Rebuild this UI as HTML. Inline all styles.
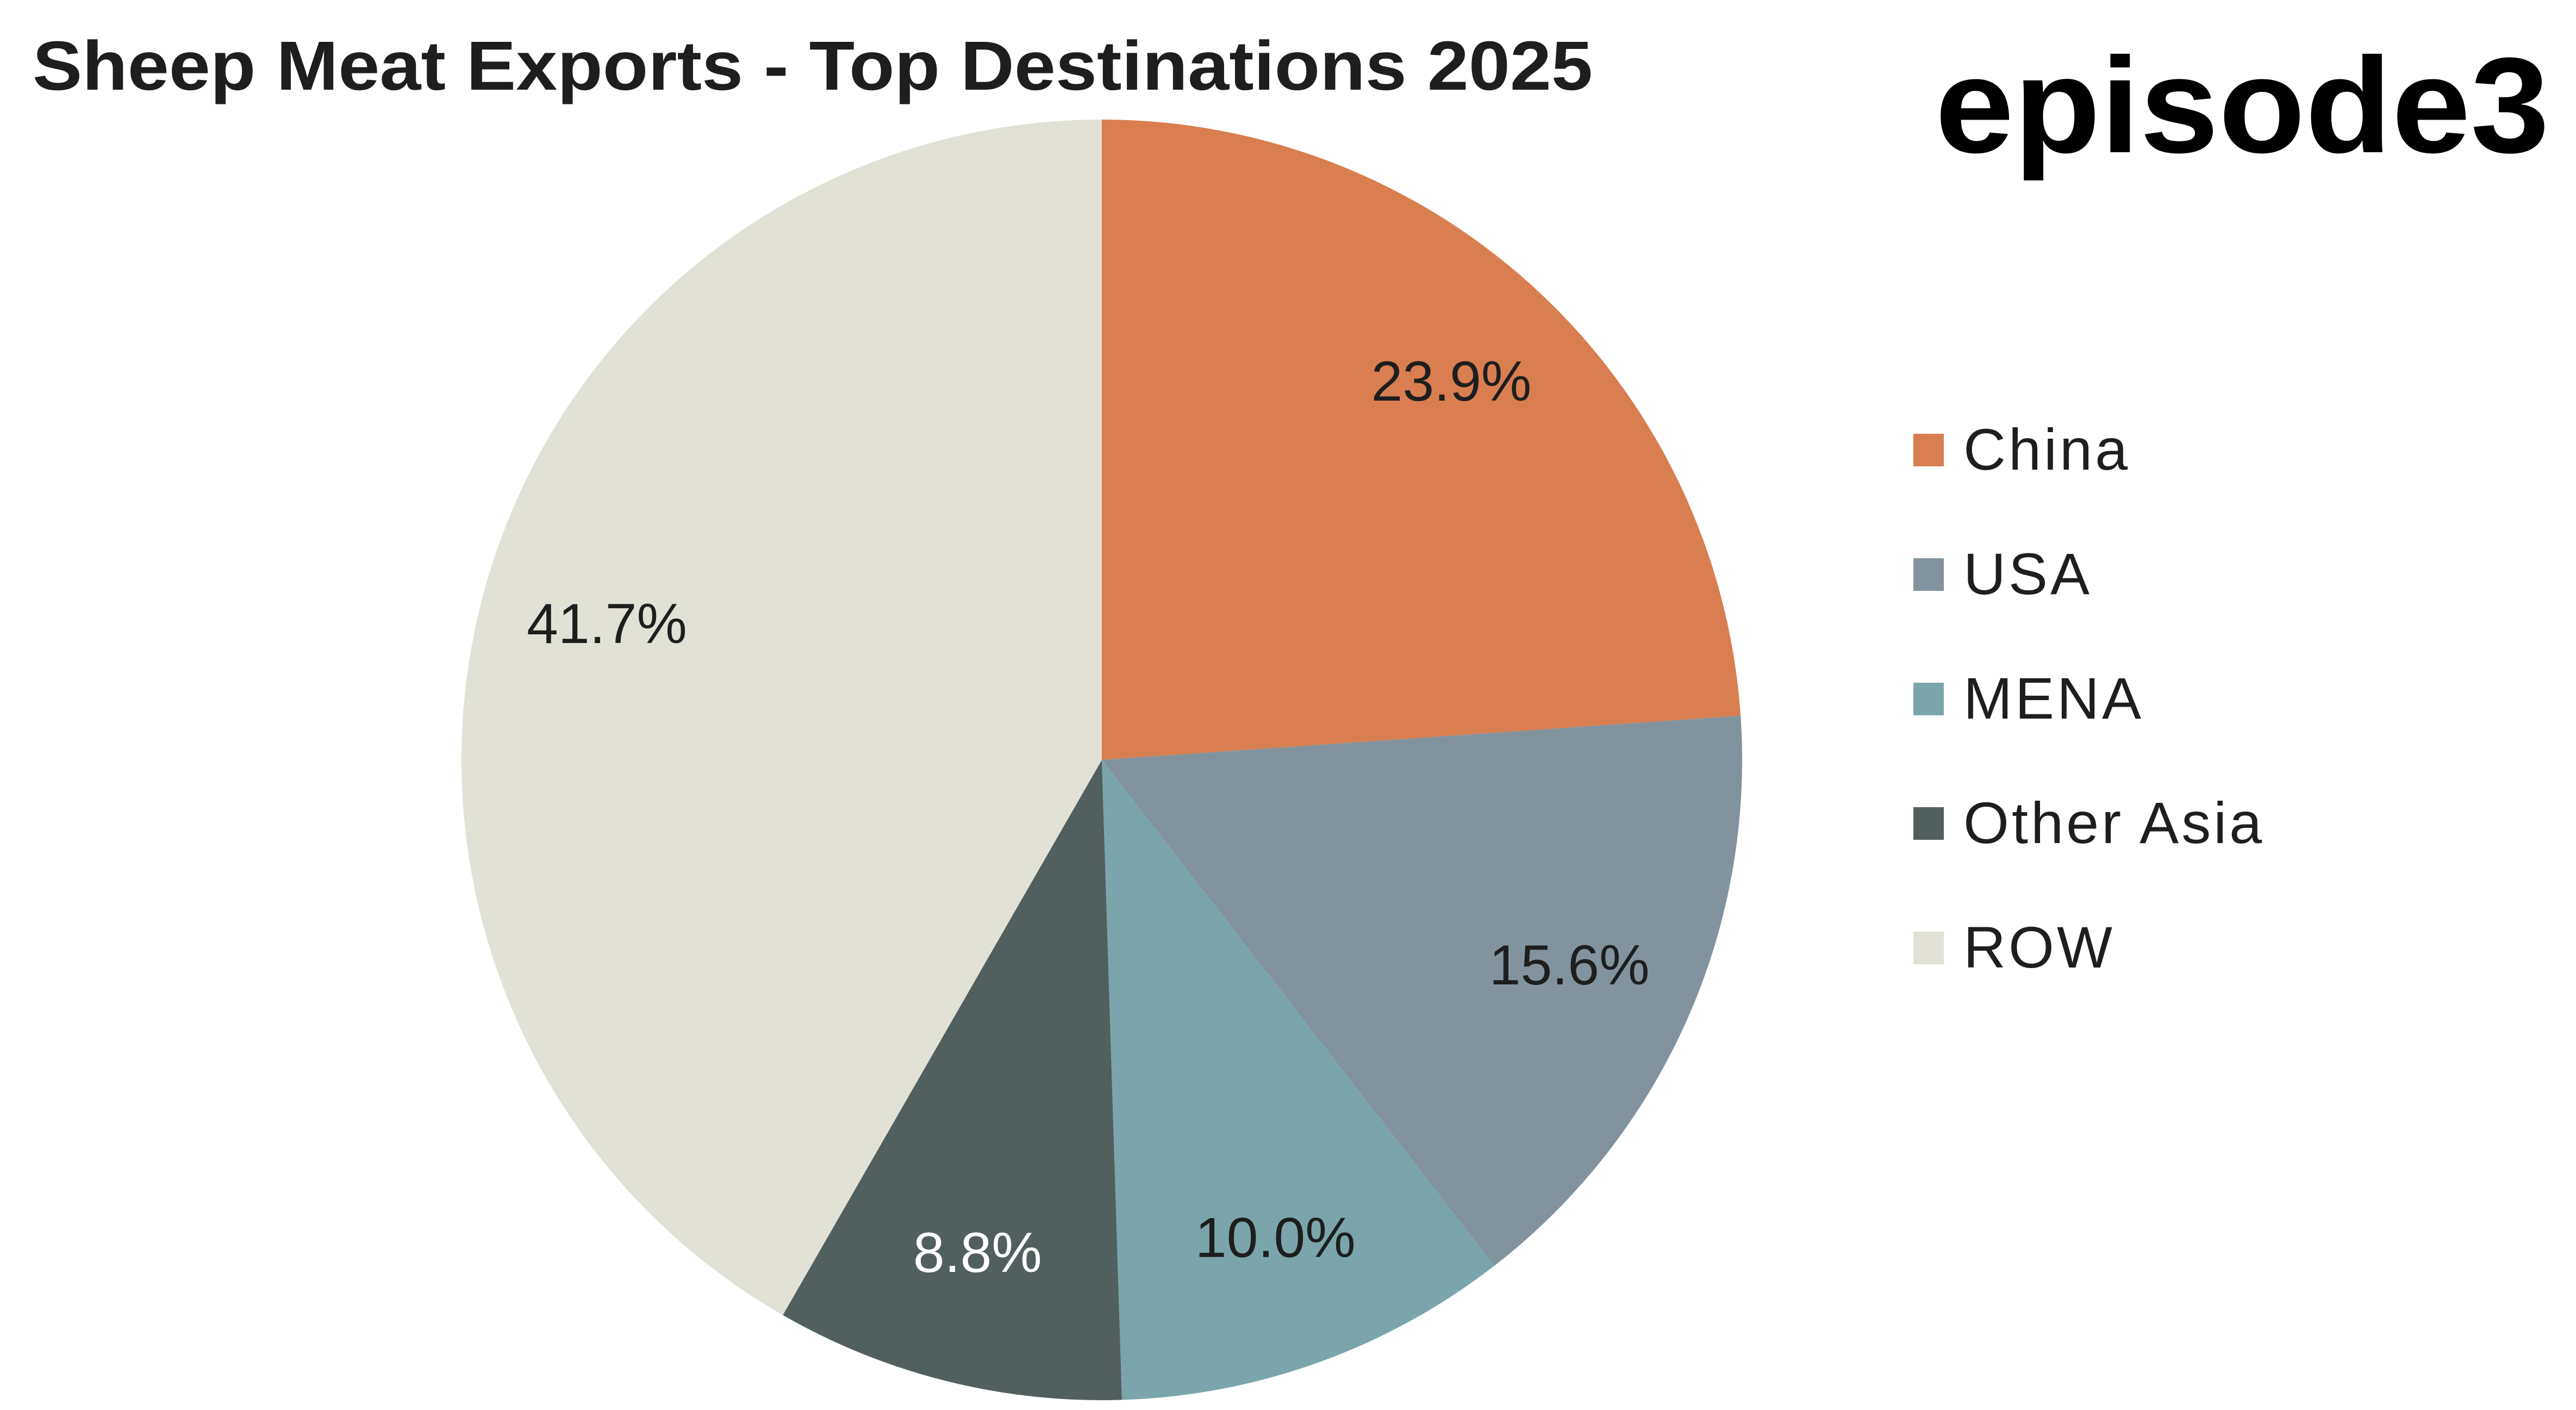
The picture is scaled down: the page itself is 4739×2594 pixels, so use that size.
<!DOCTYPE html>
<html><head><meta charset="utf-8"><style>html,body{margin:0;padding:0;background:#fff}svg{display:block}</style></head>
<body>
<svg id="chart" width="4739" height="2594" viewBox="0 0 4739 2594" xmlns="http://www.w3.org/2000/svg" font-family="'Liberation Sans', sans-serif">
<rect width="4739" height="2594" fill="#fff"/>
<text x="60" y="165" font-size="128" font-weight="bold" fill="#1e1e1e" textLength="2870" lengthAdjust="spacingAndGlyphs">Sheep Meat Exports - Top Destinations 2025</text>
<text x="3560" y="280" font-size="250" font-weight="bold" fill="#000" textLength="1130" lengthAdjust="spacingAndGlyphs">episode3</text>
<g id="slices"></g>
<g id="labels"></g>
<g id="legend"></g>
</svg>
<script>
const categories = ["China","USA","MENA","Other Asia","ROW"];
const values = [23.9,15.6,10.0,8.8,41.7];
const valueLabels = ["23.9%","15.6%","10.0%","8.8%","41.7%"];
const colors = ["#d97e50","#82939e","#7aa6ab","#525f5f","#e1e1d6"];
const labelColors = ["#1e1e1e","#1e1e1e","#1e1e1e","#ffffff","#1e1e1e"];
const NS="http://www.w3.org/2000/svg";
const cx=2027, cy=1398, r=1178;
const total=values.reduce((a,b)=>a+b,0);
const sl=document.getElementById('slices'), lb=document.getElementById('labels'), lg=document.getElementById('legend');
function pt(a,rr){return [cx+rr*Math.sin(a), cy-rr*Math.cos(a)];}
let acc=0;
values.forEach((v,i)=>{
  const a0=acc/total*2*Math.PI; acc+=v; const a1=acc/total*2*Math.PI;
  const p0=pt(a0,r), p1=pt(a1,r);
  const large=(a1-a0)>Math.PI?1:0;
  const p=document.createElementNS(NS,'path');
  p.setAttribute('d',`M${cx},${cy} L${p0[0]},${p0[1]} A${r},${r} 0 ${large} 1 ${p1[0]},${p1[1]} Z`);
  p.setAttribute('fill',colors[i]);
  
  
  sl.appendChild(p);
  const am=(a0+a1)/2, lp=pt(am,r*0.8);
  const t=document.createElementNS(NS,'text');
  t.setAttribute('x',lp[0]); t.setAttribute('y',lp[1]+28);
  t.setAttribute('text-anchor','middle'); t.setAttribute('font-size','104');
  t.setAttribute('fill',labelColors[i]);
  t.textContent=valueLabels[i];
  
  
  lb.appendChild(t);
});
categories.forEach((c,i)=>{
  const y=828+i*229;
  const g=document.createElementNS(NS,'g');
  
  
  const s=document.createElementNS(NS,'rect');
  s.setAttribute('x',3520); s.setAttribute('y',y-30); s.setAttribute('width',56); s.setAttribute('height',60);
  s.setAttribute('fill',colors[i]);
  g.appendChild(s);
  const t=document.createElementNS(NS,'text');
  t.setAttribute('x',3612); t.setAttribute('y',y+36); t.setAttribute('font-size','108');
  t.setAttribute('fill','#1e1e1e'); t.setAttribute('letter-spacing','5');
  t.textContent=c;
  g.appendChild(t);
  lg.appendChild(g);
});
</script>
</body></html>
